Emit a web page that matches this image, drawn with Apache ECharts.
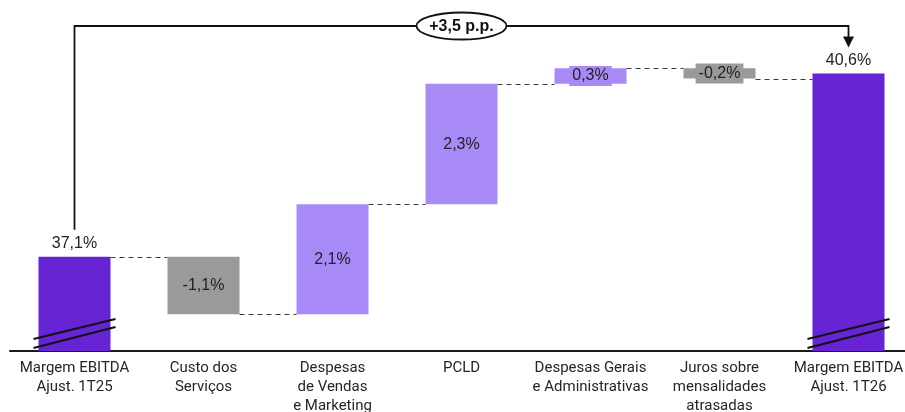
<!DOCTYPE html>
<html>
<head>
<meta charset="utf-8">
<script src="https://cdn.jsdelivr.net/npm/echarts@6/dist/echarts.min.js"></script>
<style>
  html, body { margin: 0; padding: 0; background: #fff; }
  #chart { width: 905px; height: 412px; }
</style>
</head>
<body>
<div id="chart"></div>
<script>
// Bridge of adjusted EBITDA margin, 1T25 -> 1T26 (percentage points)
const categories = [
  'Margem EBITDA\nAjust. 1T25',
  'Custo dos\nServiços',
  'Despesas\nde Vendas\ne Marketing',
  'PCLD',
  'Despesas Gerais\ne Administrativas',
  'Juros sobre\nmensalidades\natrasadas',
  'Margem EBITDA\nAjust. 1T26'
];
const startTotal = 37.1;
const endTotal = 40.6;
const deltas = [-1.1, 2.1, 2.3, 0.3, -0.2];   // categories 1..5
const yMin = 35.3;
const yMax = 41.6;

const C_TOTAL = '#6624D4';
const C_UP = '#A78AF5';
const C_DOWN = '#9A9A9A';
const BAR_W = 72;
const LAST = categories.length - 1;

const round1 = v => Math.round(v * 10) / 10;
const fmt = v => v.toFixed(1).replace('.', ',');

// running level after each step
const levels = [startTotal];
let run = startTotal;
deltas.forEach(d => { run = round1(run + d); levels.push(run); });

// invisible base under each floating bar
const baseData = categories.map((_, i) => {
  if (i === 0 || i === LAST) return '-';
  const d = deltas[i - 1];
  return d >= 0 ? levels[i - 1] : levels[i];
});

// visible bars: totals from zero (clipped by the broken axis), steps floating
const barData = categories.map((_, i) => {
  if (i === 0 || i === LAST) {
    const v = i === 0 ? startTotal : endTotal;
    return { value: v, signed: v, itemStyle: { color: C_TOTAL }, label: { position: 'top' } };
  }
  const d = deltas[i - 1];
  const color = d >= 0 ? C_UP : C_DOWN;
  const item = { value: Math.abs(d), signed: d, itemStyle: { color }, label: { position: 'inside' } };
  if (Math.abs(d) < 0.5) {
    item.label.backgroundColor = color;
    item.label.padding = [2, 3];
  }
  return item;
});

const chart = echarts.init(document.getElementById('chart'), null, { renderer: 'canvas' });

chart.setOption({
  animation: false,
  grid: { left: 10, right: -8, top: 21, bottom: 61, outerBoundsMode: 'none', containLabel: false },
  xAxis: {
    type: 'category',
    data: categories,
    axisTick: { show: false },
    axisLine: { lineStyle: { color: '#1a1a1a', width: 2 } },
    axisLabel: {
      interval: 0, margin: 8, fontFamily: 'Roboto', fontSize: 15,
      lineHeight: 19, color: '#262626'
    }
  },
  yAxis: {
    type: 'value', min: yMin, max: yMax,
    show: false, splitLine: { show: false }
  },
  series: [
    {
      name: 'base', type: 'bar', stack: 'w', barWidth: BAR_W,
      itemStyle: { color: 'transparent' }, silent: true,
      data: baseData
    },
    {
      name: 'margem', type: 'bar', stack: 'w', barWidth: BAR_W,
      data: barData,
      label: {
        show: true,
        fontFamily: 'Liberation Sans', fontSize: 16, color: '#222',
        formatter: p => fmt(p.data.signed) + '%'
      }
    },
    {
      // dashed connectors between consecutive bars
      name: 'connectors', type: 'custom', z: 1, silent: true,
      data: levels.map((v, i) => [i, v]),
      renderItem(params, api) {
        const p = api.coord([api.value(0), api.value(1)]);
        const band = api.size([1, 0])[0];
        const y = Math.round(p[1]) + 0.5;
        return {
          type: 'line',
          shape: { x1: p[0] + BAR_W / 2, y1: y, x2: p[0] + band - BAR_W / 2, y2: y },
          style: { stroke: '#3a3a3a', lineWidth: 1, lineDash: [5, 4] }
        };
      }
    },
    {
      // broken-axis marks on the total bars
      name: 'breaks', type: 'custom', z: 5, silent: true, clip: false,
      data: [[0, yMin], [LAST, yMin]],
      renderItem(params, api) {
        const p = api.coord([api.value(0), api.value(1)]);
        const cx = p[0], by = p[1];
        const st = { stroke: '#111', lineWidth: 2 };
        return {
          type: 'group',
          children: [
            { type: 'line', shape: { x1: cx - 41, y1: by - 12, x2: cx + 41, y2: by - 32 }, style: st },
            { type: 'line', shape: { x1: cx - 41, y1: by - 3, x2: cx + 41, y2: by - 24 }, style: st }
          ]
        };
      }
    },
    {
      // bracket with the total variation
      name: 'bracket', type: 'custom', z: 6, silent: true, clip: false,
      data: [[0, startTotal, LAST, endTotal]],
      renderItem(params, api) {
        const a = api.coord([api.value(0), api.value(1)]);
        const b = api.coord([api.value(2), api.value(3)]);
        const topY = Math.round(api.coord([0, yMax])[1]) + 5;
        const tip = b[1] - 26;
        const mid = (a[0] + b[0]) / 2;
        const diff = round1(endTotal - startTotal);
        const txt = (diff >= 0 ? '+' : '') + fmt(diff) + ' p.p.';
        const st = { stroke: '#111', lineWidth: 1.8, fill: null };
        return {
          type: 'group',
          children: [
            { type: 'polyline', shape: { points: [[a[0], a[1] - 27], [a[0], topY], [b[0], topY], [b[0], tip - 10]] }, style: st },
            { type: 'polygon', shape: { points: [[b[0] - 5.5, tip - 11], [b[0] + 5.5, tip - 11], [b[0], tip]] }, style: { fill: '#111' } },
            { type: 'ellipse', shape: { cx: mid, cy: topY, rx: 45, ry: 13.5 }, style: { fill: '#fff', stroke: '#111', lineWidth: 1.8 } },
            {
              type: 'text', x: mid, y: topY + 1,
              style: {
                text: txt, align: 'center', verticalAlign: 'middle',
                fontFamily: 'Liberation Sans', fontWeight: 'bold', fontSize: 16, fill: '#111'
              }
            }
          ]
        };
      }
    }
  ]
});
</script>
</body>
</html>
